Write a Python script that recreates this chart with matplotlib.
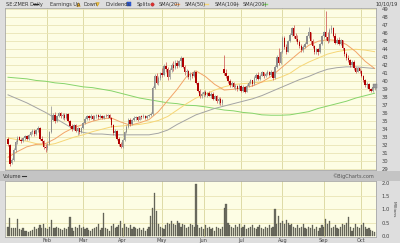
import numpy as np
import pandas as pd
import matplotlib
matplotlib.use("Agg")
import matplotlib.pyplot as plt
from matplotlib.lines import Line2D
from matplotlib.patches import Rectangle

# trading days shown on the chart
holidays = ["2019-01-21", "2019-02-18", "2019-04-19", "2019-05-27", "2019-07-04", "2019-09-02"]
dates = pd.bdate_range("2019-01-02", "2019-10-10")
dates = dates[~dates.isin(pd.to_datetime(holidays))]

opens = [32.8, 32.0, 29.8, 30.2, 31.4, 32.4, 33.0, 32.7, 32.5, 32.9,
         33.1, 32.8, 33.3, 33.6, 33.8, 33.4, 33.9, 34.1, 32.8, 32.5,
         31.8, 31.6, 32.1, 33.6, 35.2, 35.8, 35.0, 35.6, 36.0, 35.6,
         35.8, 35.4, 35.9, 35.0, 34.4, 34.0, 34.5, 33.8, 34.1, 33.6,
         34.1, 34.8, 35.3, 35.6, 35.4, 35.7, 35.3, 35.6, 35.8, 35.5,
         35.7, 35.4, 35.7, 35.6, 35.8, 35.4, 34.5, 33.5, 33.8, 32.8,
         32.2, 31.8, 32.6, 33.6, 34.3, 35.2, 34.6, 35.1, 35.4, 35.5,
         35.2, 35.6, 35.5, 35.7, 35.4, 35.7, 35.8, 35.9, 39.2, 40.6,
         39.8, 40.4, 41.0, 40.8, 41.9, 41.5, 40.5, 41.4, 42.0, 41.6,
         42.3, 41.9, 42.5, 42.9, 41.8, 41.1, 41.3, 40.5, 40.9, 40.6,
         41.2, 39.8, 38.8, 38.2, 38.4, 38.6, 38.3, 38.5, 38.2, 38.4,
         37.8, 38.1, 37.5, 37.8, 37.3, 41.5, 41.0, 40.6, 40.0, 39.5,
         39.8, 39.3, 39.4, 39.0, 39.4, 38.8, 39.3, 38.7, 39.4, 39.8,
         40.1, 39.6, 40.4, 40.8, 40.3, 40.7, 41.1, 40.6, 40.9, 41.2,
         40.8, 41.2, 40.4, 41.8, 43.0, 42.3, 43.6, 45.4, 44.3, 43.7,
         45.0, 45.8, 46.7, 45.6, 45.3, 44.9, 44.4, 43.9, 44.3, 44.7,
         45.6, 46.1, 45.0, 44.4, 43.7, 44.0, 43.6, 44.6, 45.6, 46.1,
         45.5, 45.0, 46.4, 46.7, 45.7, 44.8, 45.2, 44.7, 45.1, 44.1,
         43.4, 42.9, 42.6, 42.0, 42.4, 41.6, 41.2, 41.6, 41.3, 40.7,
         40.1, 39.5, 39.7, 39.0, 38.8, 39.3]
highs = [33.0, 32.1, 30.4, 31.6, 32.6, 33.1, 33.2, 32.9, 33.0, 33.3,
         33.3, 33.4, 33.8, 34.0, 34.0, 34.0, 34.4, 34.3, 33.1, 32.7,
         32.2, 32.3, 33.8, 36.9, 36.0, 36.1, 35.8, 36.2, 36.1, 36.0,
         36.0, 36.0, 36.0, 35.1, 34.6, 34.7, 34.6, 34.3, 34.2, 34.3,
         34.9, 35.5, 35.8, 35.8, 35.9, 35.8, 35.8, 35.9, 35.9, 35.9,
         35.8, 35.8, 35.9, 35.9, 35.9, 35.5, 34.6, 34.0, 33.9, 33.0,
         32.4, 32.8, 33.8, 34.5, 35.4, 35.4, 35.3, 35.6, 35.7, 35.6,
         35.7, 35.8, 35.9, 35.8, 35.8, 35.9, 36.1, 39.4, 40.9, 41.0,
         40.6, 41.2, 41.6, 42.2, 42.4, 41.8, 41.6, 42.3, 42.5, 42.6,
         42.7, 42.7, 43.1, 43.0, 42.0, 41.5, 41.4, 41.2, 41.1, 41.4,
         41.3, 39.9, 39.0, 38.6, 38.8, 38.9, 38.7, 38.8, 38.6, 38.6,
         38.3, 38.3, 38.0, 38.0, 37.8, 43.3, 41.5, 40.8, 40.3, 40.0,
         39.9, 39.6, 39.5, 39.6, 39.5, 39.5, 39.4, 39.6, 40.0, 40.3,
         40.2, 40.6, 41.0, 41.1, 40.9, 41.3, 41.2, 41.1, 41.4, 41.3,
         41.4, 41.3, 42.0, 43.3, 44.1, 43.8, 45.6, 45.6, 44.6, 45.2,
         46.0, 46.8, 47.0, 46.0, 45.8, 45.2, 44.6, 44.5, 44.9, 45.8,
         46.8, 46.2, 45.3, 44.5, 44.2, 44.2, 44.8, 45.8, 46.3, 48.8,
         46.2, 46.6, 47.0, 46.8, 46.0, 45.4, 45.5, 45.3, 45.2, 44.2,
         43.6, 43.3, 42.8, 42.6, 42.7, 41.8, 41.8, 41.7, 41.4, 40.8,
         40.3, 39.9, 39.8, 39.2, 39.5, 39.7]
lows = [31.9, 29.4, 29.6, 30.0, 31.2, 32.2, 32.6, 32.3, 32.4, 32.7,
        32.6, 32.7, 33.1, 33.4, 33.2, 33.3, 33.7, 32.6, 32.3, 31.5,
        31.2, 31.4, 32.0, 33.5, 35.0, 34.8, 34.9, 35.5, 35.4, 35.3,
        35.2, 35.3, 34.9, 34.2, 33.8, 33.9, 33.6, 33.3, 33.4, 33.5,
        34.0, 34.7, 35.1, 35.2, 35.3, 35.2, 35.2, 35.4, 35.3, 35.4,
        35.3, 35.3, 35.5, 35.4, 35.3, 34.3, 33.3, 33.2, 32.6, 31.9,
        31.6, 31.7, 32.5, 33.5, 34.2, 34.4, 34.5, 35.0, 35.2, 35.0,
        35.1, 35.3, 35.4, 35.3, 35.3, 35.5, 35.6, 35.8, 39.0, 39.6,
        39.5, 40.2, 40.5, 40.6, 41.2, 40.2, 40.3, 41.2, 41.3, 41.5,
        41.7, 41.8, 41.8, 41.6, 40.8, 40.5, 40.3, 40.2, 40.4, 40.5,
        39.6, 38.6, 37.9, 37.9, 38.0, 38.1, 38.0, 38.1, 37.9, 37.6,
        37.6, 37.3, 37.2, 37.0, 37.0, 40.8, 40.4, 39.8, 39.3, 39.3,
        39.1, 38.9, 38.8, 38.9, 38.6, 38.7, 38.5, 38.6, 39.3, 39.6,
        39.4, 39.5, 40.2, 40.1, 40.2, 40.6, 40.4, 40.5, 40.8, 40.6,
        40.7, 40.2, 40.3, 41.7, 42.0, 42.2, 43.5, 44.0, 43.4, 43.6,
        44.9, 45.6, 45.4, 45.0, 44.6, 44.1, 43.6, 43.7, 44.2, 44.6,
        45.4, 44.7, 44.2, 43.4, 43.4, 43.3, 43.5, 44.5, 45.4, 45.2,
        44.8, 44.9, 46.0, 45.5, 44.6, 44.6, 44.5, 44.5, 43.9, 43.2,
        42.7, 42.4, 41.8, 41.9, 41.4, 41.0, 41.1, 41.0, 40.5, 39.9,
        39.3, 39.2, 38.8, 38.6, 38.7, 38.9]
closes = [32.1, 29.7, 30.2, 31.4, 32.4, 32.9, 32.7, 32.5, 32.9, 33.1,
          32.8, 33.3, 33.6, 33.8, 33.4, 33.9, 34.2, 32.8, 32.5, 31.8,
          31.6, 32.1, 33.6, 35.2, 35.8, 35.0, 35.6, 36.0, 35.6, 35.8,
          35.4, 35.9, 35.0, 34.4, 34.0, 34.5, 33.8, 34.1, 33.6, 34.1,
          34.8, 35.3, 35.6, 35.4, 35.7, 35.3, 35.6, 35.8, 35.5, 35.7,
          35.4, 35.7, 35.6, 35.8, 35.4, 34.5, 33.5, 33.8, 32.8, 32.2,
          31.8, 32.6, 33.6, 34.3, 35.2, 34.6, 35.1, 35.4, 35.5, 35.2,
          35.6, 35.5, 35.7, 35.4, 35.7, 35.8, 35.9, 39.2, 40.6, 39.8,
          40.4, 41.0, 40.8, 41.9, 41.5, 40.5, 41.4, 42.0, 41.6, 42.3,
          41.9, 42.5, 42.9, 41.8, 41.1, 41.3, 40.5, 40.9, 40.6, 41.2,
          39.8, 38.8, 38.2, 38.4, 38.6, 38.3, 38.5, 38.2, 38.4, 37.8,
          38.1, 37.5, 37.8, 37.3, 37.6, 41.0, 40.6, 40.0, 39.5, 39.8,
          39.3, 39.4, 39.0, 39.4, 38.8, 39.3, 38.7, 39.4, 39.8, 40.1,
          39.6, 40.4, 40.8, 40.3, 40.7, 41.1, 40.6, 40.9, 41.2, 40.8,
          41.2, 40.4, 41.8, 43.0, 42.3, 43.6, 45.4, 44.3, 43.7, 45.0,
          45.8, 46.6, 45.6, 45.3, 44.9, 44.4, 43.9, 44.3, 44.7, 45.6,
          46.1, 45.0, 44.4, 43.7, 44.0, 43.6, 44.6, 45.6, 46.1, 45.5,
          45.0, 46.4, 46.7, 45.7, 44.8, 45.2, 44.7, 45.1, 44.1, 43.4,
          42.9, 42.6, 42.0, 42.4, 41.6, 41.2, 41.6, 41.3, 40.7, 40.1,
          39.5, 39.7, 39.0, 38.8, 39.3, 39.4]
volume = [0.35, 0.66, 0.30, 0.28, 0.30, 0.62, 0.25, 0.22, 0.30, 0.18,
          0.20, 0.15, 0.18, 0.22, 0.35, 0.25, 0.30, 0.40, 0.28, 0.45,
          0.30, 0.26, 0.35, 0.58, 0.30, 0.28, 0.35, 0.30, 0.25, 0.22,
          0.30, 0.25, 0.35, 0.72, 0.28, 0.20, 0.35, 0.30, 0.40, 0.28,
          0.35, 0.25, 0.30, 0.22, 0.20, 0.25, 0.30, 0.35, 0.45, 0.22,
          0.30, 0.85, 0.30, 0.25, 0.20, 0.38, 0.45, 0.30, 0.35, 0.40,
          0.55, 0.30, 0.45, 0.35, 0.30, 0.40, 0.25, 0.35, 0.30, 0.25,
          0.30, 0.22, 0.28, 0.20, 0.25, 0.35, 0.75, 1.05, 1.62, 0.95,
          0.45, 0.35, 0.30, 0.25, 0.40, 0.50, 0.45, 0.55, 0.45, 0.40,
          0.55, 0.50, 0.35, 0.45, 0.40, 0.30, 0.35, 0.45, 0.40, 0.35,
          1.95, 0.40, 0.30, 0.35, 0.25, 0.40, 0.30, 0.35, 0.25, 0.30,
          0.20, 0.35, 0.30, 0.25, 0.35, 1.05, 1.20, 0.50, 0.40, 0.35,
          0.30, 0.40, 0.35, 0.45, 0.30, 0.35, 0.40, 0.25, 0.30, 0.35,
          0.40, 0.30, 0.25, 0.35, 0.40, 0.30, 0.25, 0.35, 0.30, 0.40,
          0.30, 0.35, 1.00, 0.45, 0.75, 0.50, 0.55, 0.45, 0.60, 0.50,
          0.40, 0.45, 0.35, 0.30, 0.40, 0.30, 0.35, 0.45, 0.30, 0.25,
          0.35, 0.30, 0.40, 0.25, 0.35, 0.20, 0.30, 0.40, 0.35, 0.65,
          0.45, 0.55, 0.30, 0.35, 0.40, 0.30, 0.25, 0.35, 0.45, 0.40,
          0.50, 0.72, 0.35, 0.20, 0.30, 0.45, 0.35, 0.30, 0.40, 0.50,
          0.35, 0.25, 0.30, 0.22, 0.20, 0.15]

# moving averages every 5 trading days
ma_idx = list(range(0, 196, 5))
sma20 = [30.5, 31.2, 31.8, 32.1, 32.2, 32.8, 33.6, 34.2, 34.6, 35.0,
         35.3, 35.4, 34.9, 34.5, 34.8, 35.2, 36.2, 37.6, 39.0, 40.6,
         41.3, 40.6, 39.6, 38.9, 39.0, 39.2, 39.4, 39.9, 40.6, 41.6,
         42.6, 43.6, 44.5, 45.0, 45.2, 45.1, 44.6, 43.7, 42.5, 41.6]
sma50 = [32.9, 32.7, 32.5, 32.2, 32.0, 32.2, 32.6, 33.0, 33.3, 33.7,
         34.0, 34.3, 34.4, 34.5, 34.6, 34.8, 35.1, 35.6, 36.4, 37.2,
         37.9, 38.4, 38.9, 39.3, 39.6, 39.7, 39.8, 39.9, 40.1, 40.5,
         41.0, 41.8, 42.4, 42.9, 43.4, 43.7, 43.9, 44.0, 43.9, 43.7]
sma100 = [38.3, 37.8, 37.3, 36.7, 36.1, 35.4, 34.7, 34.0, 33.6, 33.4,
          33.4, 33.3, 33.3, 33.3, 33.3, 33.3, 33.5, 33.9, 34.6, 35.2,
          35.8, 36.2, 36.6, 36.9, 37.2, 37.5, 37.8, 38.2, 38.7, 39.2,
          39.7, 40.2, 40.6, 41.1, 41.5, 41.7, 41.8, 41.8, 41.7, 41.6]
sma200 = [40.5, 40.4, 40.3, 40.1, 40.0, 39.8, 39.7, 39.5, 39.3, 39.2,
          39.0, 38.8, 38.5, 38.2, 37.9, 37.7, 37.5, 37.3, 37.2, 37.0,
          36.95, 36.8, 36.6, 36.4, 36.3, 36.1, 36.0, 35.8, 35.75, 35.75,
          35.8, 36.0, 36.2, 36.6, 36.9, 37.2, 37.5, 37.9, 38.2, 38.5]

W, H = 400, 243
def fx(px): return px / W
def fy(py): return 1 - py / H

fig = plt.figure(figsize=(4, 2.43), dpi=100, facecolor='#dedede')

# grey band between the panels (px 171 to 180.5)
fig.patches.append(Rectangle((0, fy(180.5)), 1, (180.5 - 171) / H, transform=fig.transFigure,
                             facecolor='#c4c4c4', edgecolor='none'))

ax = fig.add_axes([fx(5), fy(170), 370.5 / W, (170 - 8.5) / H])
axv = fig.add_axes([fx(5), fy(237), 370.5 / W, (237 - 181) / H])

panel = '#fdfde4'
grid_h = '#e9e5b5'
grid_v = '#dedaa6'

x = np.arange(len(dates))
month_pos = [i for i in range(1, len(dates)) if dates[i].month != dates[i - 1].month]
month_lab = [dates[i].strftime('%b') for i in month_pos]

for a in (ax, axv):
    a.set_facecolor(panel)
    a.set_xlim(-1.6, 195.5)
    for s in a.spines.values():
        s.set_color('#a8a8a8')
        s.set_linewidth(0.6)
    for m in month_pos:
        a.axvline(m, color=grid_v, lw=0.7, zorder=0)

# price panel
ax.set_ylim(28.9, 49.1)
for p in range(29, 50):
    ax.axhline(p, color=grid_h, lw=0.6, zorder=0)

o = np.array(opens); h = np.array(highs); l = np.array(lows); c = np.array(closes)
down = c < o
col = np.where(down, '#b00000', '#8e8e8e')
wick = np.where(down, '#cc4a4a', '#8e8e8e')
ax.vlines(x, l, h, colors=wick, lw=0.5, zorder=3)
body_lo = np.minimum(o, c)
body_h = np.maximum(np.abs(c - o), 0.1)
ax.bar(x, body_h, bottom=body_lo, width=0.75, color=col, edgecolor='none', zorder=4)

ax.plot(ma_idx, sma200, color='#86d46a', lw=0.7, zorder=2)
ax.plot(ma_idx, sma100, color='#a4a4a4', lw=0.7, zorder=2)
ax.plot(ma_idx, sma50, color='#f6d676', lw=0.7, zorder=2)
ax.plot(ma_idx, sma20, color='#f2a468', lw=0.7, zorder=2)
ax.plot([195], [closes[-1]], marker='s', ms=2.2, color='#9a9a9a', mec='#707070', mew=0.3,
        zorder=5, clip_on=False)

ax.set_xticks([])
ax.yaxis.tick_right()
ax.set_yticks(range(29, 50))
ax.tick_params(axis='y', length=0, pad=4.5, labelsize=3.8, labelcolor='#444444')

# volume panel
axv.set_ylim(-0.04, 2.06)
for v in (0.5, 1.0, 1.5):
    axv.axhline(v, color=grid_h, lw=0.6, zorder=0)
axv.bar(x, volume, width=0.62, color='#6e6e62', edgecolor='#4c4c42', lw=0.2, zorder=3)
axv.yaxis.tick_right()
axv.set_yticks([0, 0.5, 1.0, 1.5, 2.0])
axv.set_yticklabels(['0.0', '0.5', '1.0', '1.5', '2.0'])
axv.tick_params(axis='y', length=0, pad=4.5, labelsize=3.8, labelcolor='#444444')
axv.set_xticks(month_pos)
axv.set_xticklabels(month_lab)
axv.tick_params(axis='x', length=0, pad=1, labelsize=3.6, labelcolor='#444444')

fig.text(fx(394), fy(209), 'Millions', rotation=270, fontsize=3.2, color='#444444',
         ha='center', va='center')
fig.text(fx(3), fy(176), 'Volume', fontsize=3.6, color='#333333', va='center')
fig.add_artist(Line2D([fx(22), fx(26)], [fy(176), fy(176)], color='#333333', lw=0.8))
fig.text(fx(374), fy(176), '\u00a9BigCharts.com', fontsize=3.6, color='#555555',
         ha='right', va='center')

# header legend
ty = fy(4.2)
def htext(px, s):
    fig.text(fx(px), ty, s, fontsize=3.6, color='#333333', va='center')
htext(6, 'SE:ZMER Daily')
fig.add_artist(Line2D([fx(33), fx(38)], [ty, ty], color='#222222', lw=0.8))
htext(50, 'Earnings Up')
fig.add_artist(Line2D([fx(77.5)], [ty], marker='^', ms=2.6, color='#f0b020', mec='#c08000', mew=0.3))
htext(84, 'Down')
fig.add_artist(Line2D([fx(97)], [ty], marker='v', ms=2.6, color='#f0c040', mec='#c09000', mew=0.3))
htext(105, 'Dividends')
fig.add_artist(Line2D([fx(129)], [ty], marker='s', ms=2.4, color='#3060e0', mec='#2040a0', mew=0.3))
htext(137, 'Splits')
fig.add_artist(Line2D([fx(152)], [ty], marker='o', ms=2.4, color='#e03030', mec='#a02020', mew=0.3))
htext(159, 'SMA(20)')
fig.add_artist(Line2D([fx(175), fx(179)], [ty, ty], color='#f2a468', lw=1.0))
htext(185, 'SMA(50)')
fig.add_artist(Line2D([fx(204), fx(208)], [ty, ty], color='#f6d676', lw=1.0))
htext(215, 'SMA(100)')
fig.add_artist(Line2D([fx(234), fx(238)], [ty, ty], color='#a4a4a4', lw=1.0))
htext(243, 'SMA(200)')
fig.add_artist(Line2D([fx(263), fx(267)], [ty, ty], color='#86d46a', lw=1.0))
fig.text(fx(398), ty, '10/10/19', fontsize=3.6, color='#333333', ha='right', va='center')

fig.savefig('out.png', dpi=100, facecolor=fig.get_facecolor())
